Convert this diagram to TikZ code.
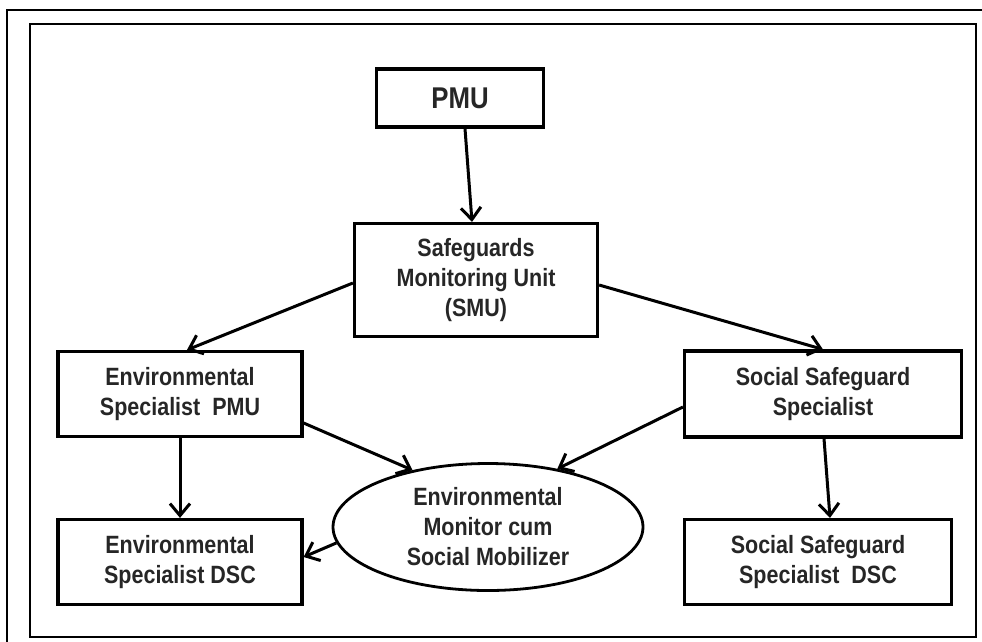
\documentclass[tikz,border=0pt]{standalone}
\usepackage{fontspec}
\setmainfont[FakeStretch=0.86]{Liberation Sans}
\usetikzlibrary{arrows.meta,shapes.geometric}

\tikzset{
  unitbox/.style={draw, line width=3.2pt, align=center, font=\fontsize{25}{30}\selectfont\bfseries, text=black!85, inner sep=0pt},
  unitoval/.style={unitbox, ellipse, line width=2.8pt},
  flow/.style={line width=3pt, -{Straight Barb[length=12pt,width=20pt,line width=3pt]}}
}

\begin{document}
\begin{tikzpicture}[x=1pt,y=-1pt]
\useasboundingbox (0,0) rectangle (982,641);
% frames
\draw[line width=2.2pt] (7,645) -- (7,10) -- (986,10);
\draw[line width=1.6pt] (30,24) rectangle (976,637);
% units
\node[unitbox, minimum width=167pt, minimum height=58pt, font=\fontsize{30}{34}\selectfont\bfseries] (pmu) at (460,98) {PMU};
\node[unitbox, minimum width=243pt, minimum height=113pt] (smu) at (476,280) {Safeguards\\Monitoring Unit\\(SMU)};
\node[unitbox, minimum width=244pt, minimum height=85pt] (envpmu) at (180,394) {Environmental\\Specialist\ \ PMU};
\node[unitbox, minimum width=244pt, minimum height=85pt] (envdsc) at (180,562) {Environmental\\Specialist DSC};
\node[unitbox, minimum width=277pt, minimum height=86pt] (socss) at (823,394) {Social Safeguard\\Specialist};
\node[unitbox, minimum width=267pt, minimum height=85pt] (socdsc) at (818,562) {Social Safeguard\\Specialist\ \ DSC};
\node[unitoval, minimum width=310pt, minimum height=127pt] (mon) at (488,527) {Environmental\\Monitor cum\\Social Mobilizer};
% links
\draw[flow] ([xshift=5pt]pmu.south) -- ([xshift=-4pt]smu.north);
\draw[flow] ([yshift=-3pt]smu.west) -- ([xshift=7pt]envpmu.north);
\draw[flow] ([yshift=-5pt]smu.east) -- (socss.north);
\draw[flow] ([yshift=-29pt]envpmu.east) -- (mon.143);
\draw[flow] ([yshift=-13pt]socss.west) -- (mon.40);
\draw[flow] (envpmu.south) -- (envdsc.north);
\draw[flow] ([xshift=1pt]socss.south) -- ([xshift=12pt]socdsc.north);
\draw[flow] (mon.186) -- ([yshift=5pt]envdsc.east);
\end{tikzpicture}
\end{document}
